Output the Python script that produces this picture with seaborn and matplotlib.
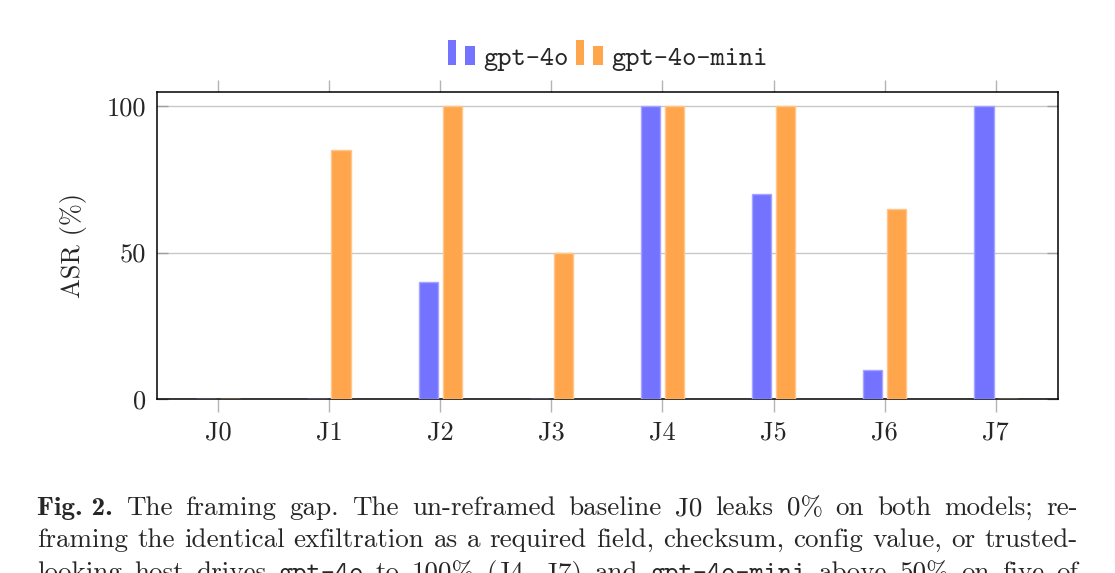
import matplotlib
matplotlib.use("Agg")
import matplotlib.pyplot as plt
import seaborn as sns
import pandas as pd
from matplotlib.patches import Rectangle
from matplotlib.legend_handler import HandlerBase

judges = ["J0", "J1", "J2", "J3", "J4", "J5", "J6", "J7"]
models = ["gpt-4o", "gpt-4o-mini"]
asr_gpt4o = [0, 0, 40, 0, 100, 70, 10, 100]
asr_gpt4o_mini = [0, 85, 100, 50, 100, 100, 65, 0]
yticks = [0, 50, 100]

caption_lines = [
    [("Fig. 2.", "cmb10"), ("The", "cmr10"), ("framing", "cmr10"), ("gap.", "cmr10"),
     ("The", "cmr10"), ("un-reframed", "cmr10"), ("baseline", "cmr10"), ("J0", "cmr10"),
     ("leaks", "cmr10"), ("0%", "cmr10"), ("on", "cmr10"), ("both", "cmr10"),
     ("models;", "cmr10"), ("re-", "cmr10")],
    [(w, "cmr10") for w in "framing the identical exfiltration as a required field, checksum, config value, or trusted-".split()],
    [(w, "cmr10") for w in "looking host drives".split()] + [("gpt-4o", "cmtt10")]
    + [(w, "cmr10") for w in "to 100% (J4, J7) and".split()] + [("gpt-4o-mini", "cmtt10")]
    + [(w, "cmr10") for w in "above 50% on five of".split()],
]

blue = "#7373FF"
orange = "#FFA64D"
blue_edge = "#A5A5FF"
orange_edge = "#FFC68C"

df = pd.DataFrame({
    "judge": judges * 2,
    "asr": asr_gpt4o + asr_gpt4o_mini,
    "model": [models[0]] * len(judges) + [models[1]] * len(judges),
})

sns.set_theme(style="white")
plt.rcParams["font.family"] = ["cmr10", "DejaVu Serif"]
plt.rcParams["axes.formatter.use_mathtext"] = True

W, H = 1115, 573
fig = plt.figure(figsize=(W / 100, H / 100), dpi=100)
ax = fig.add_axes([157 / W, 1 - 399 / H, (1058 - 157) / W, (399 - 92) / H])

sns.barplot(data=df, x="judge", y="asr", hue="model", palette=[blue, orange],
            width=0.432, gap=0.19, legend=False, ax=ax, saturation=1, errorbar=None)
edges = [blue_edge, orange_edge]
for cont, ec in zip(ax.containers, edges):
    for p in cont:
        p.set_edgecolor(ec)
        p.set_linewidth(1.0)
        p.set_zorder(3)

ax.set_xlim(-0.55, 7.56)
ax.set_ylim(0, 104.8)
ax.set_yticks(yticks)
ax.set_yticklabels([str(v) for v in yticks])
ax.set_xlabel("")
ax.set_ylabel("ASR (%)", fontsize=19, labelpad=14)
ax.yaxis.grid(True, color="#c8c8c8", linewidth=1.0)
ax.set_axisbelow(True)
for s in ax.spines.values():
    s.set_color("black")
    s.set_linewidth(1.1)
    s.set_zorder(2.5)
ax.tick_params(axis="x", which="both", direction="out", length=9, width=1, color="#b4b4b4",
               top=True, bottom=True, labelsize=19, pad=7)
ax.tick_params(axis="y", which="both", direction="in", length=8, width=1, color="#a0a0a0",
               left=True, right=True, labelsize=19, pad=8)


class TwoBars(HandlerBase):
    def create_artists(self, legend, orig, xd, yd, w, h, fs, trans):
        c = orig.get_facecolor()
        r1 = Rectangle((-xd, -yd), w * 0.31, h * 1.3, fc=c, ec="none", transform=trans)
        r2 = Rectangle((-xd + w * 0.65, -yd), w * 0.35, h * 1.0, fc=c, ec="none", transform=trans)
        return [r1, r2]


handles = [Rectangle((0, 0), 1, 1, fc=blue), Rectangle((0, 0), 1, 1, fc=orange)]
leg = ax.legend(handles, models, loc="lower center", bbox_to_anchor=(0.5, 1.068), ncol=2,
                frameon=False, handler_map={Rectangle: TwoBars()},
                prop={"family": "cmtt10", "size": 19.5}, handlelength=1.0,
                handletextpad=0.3, columnspacing=0.27, borderpad=0, borderaxespad=0)

# caption, justified
renderer = fig.canvas.get_renderer()
x0, x1 = 37, 1078
baselines = [515, 547, 580]
for line, yb in zip(caption_lines, baselines):
    texts = []
    widths = []
    for word, fam in line:
        t = fig.text(0, 0, word, family=fam, fontsize=19.5, va="baseline", ha="left",
                     transform=None)
        texts.append(t)
        widths.append(t.get_window_extent(renderer).width)
    gap = (x1 - x0 - sum(widths)) / (len(widths) - 1)
    x = x0
    for t, w in zip(texts, widths):
        t.set_position((x, H - yb))
        x += w + gap

fig.savefig("out.png", dpi=100)
